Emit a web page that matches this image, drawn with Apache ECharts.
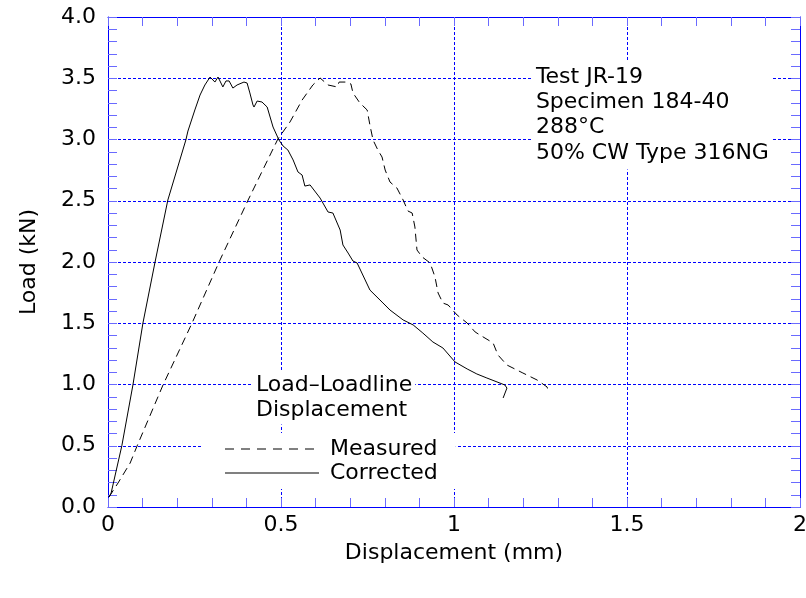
<!DOCTYPE html>
<html><head><meta charset="utf-8">
<script src="https://cdn.jsdelivr.net/npm/echarts@6/dist/echarts.min.js"></script>
<style>html,body{margin:0;padding:0;background:#fff}#c{width:806px;height:598px}</style>
</head><body><div id="c"></div>
<script>
// Corrected (solid) curve: displacement (mm), load (kN)
const correctedX = [0.003,0.009,0.040,0.072,0.101,0.136,0.173,0.199,0.225,0.231,0.251,0.266,0.280,0.295,0.309,0.318,0.332,0.341,0.350,0.361,0.373,0.393,0.402,0.410,0.419,0.422,0.431,0.445,0.460,0.477,0.494,0.506,0.520,0.535,0.549,0.561,0.569,0.584,0.613,0.636,0.650,0.671,0.679,0.694,0.708,0.720,0.757,0.792,0.815,0.853,0.882,0.910,0.939,0.968,1.003,1.038,1.066,1.095,1.147,1.153,1.142];
const correctedY = [0.082,0.114,0.500,0.996,1.502,2.000,2.506,2.751,2.996,3.069,3.241,3.363,3.445,3.510,3.469,3.510,3.429,3.478,3.478,3.420,3.445,3.469,3.461,3.380,3.282,3.265,3.314,3.306,3.265,3.102,2.996,2.947,2.914,2.833,2.735,2.710,2.620,2.629,2.522,2.408,2.400,2.261,2.139,2.073,2.008,1.992,1.771,1.673,1.608,1.527,1.486,1.420,1.347,1.298,1.184,1.127,1.086,1.053,0.996,0.971,0.890];
// Measured (dashed) curve
const measuredX = [0.003,0.029,0.064,0.084,0.159,0.243,0.321,0.405,0.491,0.526,0.561,0.592,0.613,0.618,0.636,0.662,0.668,0.691,0.702,0.708,0.728,0.749,0.757,0.766,0.780,0.792,0.801,0.815,0.835,0.853,0.867,0.879,0.887,0.893,0.908,0.931,0.945,0.954,0.968,0.983,1.009,1.038,1.061,1.075,1.113,1.127,1.153,1.199,1.240,1.269,1.272];
const measuredY = [0.082,0.196,0.359,0.498,0.996,1.502,2.000,2.506,3.004,3.143,3.322,3.445,3.502,3.510,3.445,3.429,3.469,3.469,3.453,3.380,3.298,3.241,3.118,2.996,2.914,2.857,2.751,2.653,2.604,2.506,2.416,2.400,2.286,2.098,2.041,1.992,1.878,1.747,1.665,1.649,1.567,1.502,1.429,1.404,1.339,1.241,1.159,1.094,1.037,0.980,0.947];

const seriesNames = ['Measured', 'Corrected'];
const annotationLines = ['Test JR-19', 'Specimen 184-40', '288\u00B0C', '50% CW Type 316NG'];
const legendTitleLines = ['Load\u2013Loadline', 'Displacement'];
const xAxisTitle = 'Displacement (mm)';
const yAxisTitle = 'Load (kN)';
const xRange = [0, 2];
const yRange = [0, 4];
const annotationAnchor = [1.228, 3.20];
const legendTitleAnchor = [0.419, 0.894];

const FONT = 'DejaVu Sans, Liberation Sans, Arial, sans-serif';
const BLUE = '#0000ff';
const TICK = '#6a6aff';

function pairs(xs, ys) { return xs.map((x, i) => [x, ys[i]]); }

const chart = echarts.init(document.getElementById('c'), null, { renderer: 'canvas' });

const baseAxis = {
  axisLine: { show: true, onZero: false, lineStyle: { color: BLUE, width: 1 } },
  axisTick: { show: true, inside: true, length: 9, lineStyle: { color: TICK, width: 1 } },
  minorTick: { show: true, splitNumber: 5, length: 9, lineStyle: { color: TICK, width: 1 } },
  minorSplitLine: { show: false }
};

chart.setOption({
  animation: false,
  backgroundColor: '#fff',
  grid: { left: 108, right: 6, top: 17, bottom: 91, containLabel: false, outerBoundsMode: 'none' },
  xAxis: [
    Object.assign({}, baseAxis, {
      type: 'value', min: xRange[0], max: xRange[1], interval: 0.5,
      name: xAxisTitle, nameLocation: 'middle', nameGap: 35,
      nameTextStyle: { fontFamily: FONT, fontSize: 22, color: '#000' },
      axisLabel: { fontFamily: FONT, fontSize: 22, color: '#000', margin: 7,
        formatter: v => String(v) },
      splitLine: { show: true, lineStyle: { color: BLUE, width: 1, type: [3, 2] } }
    }),
    Object.assign({}, baseAxis, {
      type: 'value', min: xRange[0], max: xRange[1], interval: 0.5, position: 'top',
      axisLabel: { show: false }, splitLine: { show: false }
    })
  ],
  yAxis: [
    Object.assign({}, baseAxis, {
      type: 'value', min: yRange[0], max: yRange[1], interval: 0.5,
      name: yAxisTitle, nameLocation: 'middle', nameGap: 68, nameRotate: 90,
      nameTextStyle: { fontFamily: FONT, fontSize: 22, color: '#000' },
      axisLabel: { fontFamily: FONT, fontSize: 22, color: '#000', margin: 12,
        formatter: v => v.toFixed(1) },
      splitLine: { show: true, lineStyle: { color: BLUE, width: 1, type: [3, 2] } }
    }),
    Object.assign({}, baseAxis, {
      type: 'value', min: yRange[0], max: yRange[1], interval: 0.5, position: 'right',
      axisLabel: { show: false }, splitLine: { show: false }
    })
  ],
  legend: {
    orient: 'vertical', left: 203, top: 433,
    padding: [4, 18, 4, 21], itemGap: 0,
    itemWidth: 94, itemHeight: 14,
    backgroundColor: '#fff', z: 50,
    textStyle: { fontFamily: FONT, fontSize: 22, color: '#000', lineHeight: 24, padding: [0, 0, 0, 6] },
    data: [
      { name: seriesNames[0], lineStyle: { color: '#808080', width: 2, type: [9, 7] },
        itemStyle: { opacity: 0 } },
      { name: seriesNames[1], lineStyle: { color: '#808080', width: 2, type: 'solid' },
        itemStyle: { opacity: 0 } }
    ]
  },
  series: [
    { name: seriesNames[0], type: 'line', data: pairs(measuredX, measuredY), symbol: 'none',
      lineStyle: { color: '#000', width: 1, type: [8, 5] }, itemStyle: { color: '#000' }, z: 10 },
    { name: seriesNames[1], type: 'line', data: pairs(correctedX, correctedY), symbol: 'none',
      lineStyle: { color: '#000', width: 1, type: 'solid' }, itemStyle: { color: '#000' }, z: 10 }
  ]
});

const p1 = chart.convertToPixel({ gridIndex: 0 }, annotationAnchor);
const p2 = chart.convertToPixel({ gridIndex: 0 }, legendTitleAnchor);

chart.setOption({
  graphic: [
    { type: 'text', x: p1[0], y: p1[1], z: 60,
      style: { text: annotationLines.join('\n'), fontFamily: FONT, fontSize: 22, fill: '#000',
        lineHeight: 25.3, align: 'left', verticalAlign: 'middle',
        backgroundColor: '#fff', padding: [4, 3, 4, 3] } },
    { type: 'text', x: p2[0], y: p2[1], z: 60,
      style: { text: legendTitleLines.join('\n'), fontFamily: FONT, fontSize: 22, fill: '#000',
        lineHeight: 25, align: 'left', verticalAlign: 'middle',
        backgroundColor: '#fff', padding: [2, 3, 2, 3] } }
  ]
});
</script>
</body></html>
